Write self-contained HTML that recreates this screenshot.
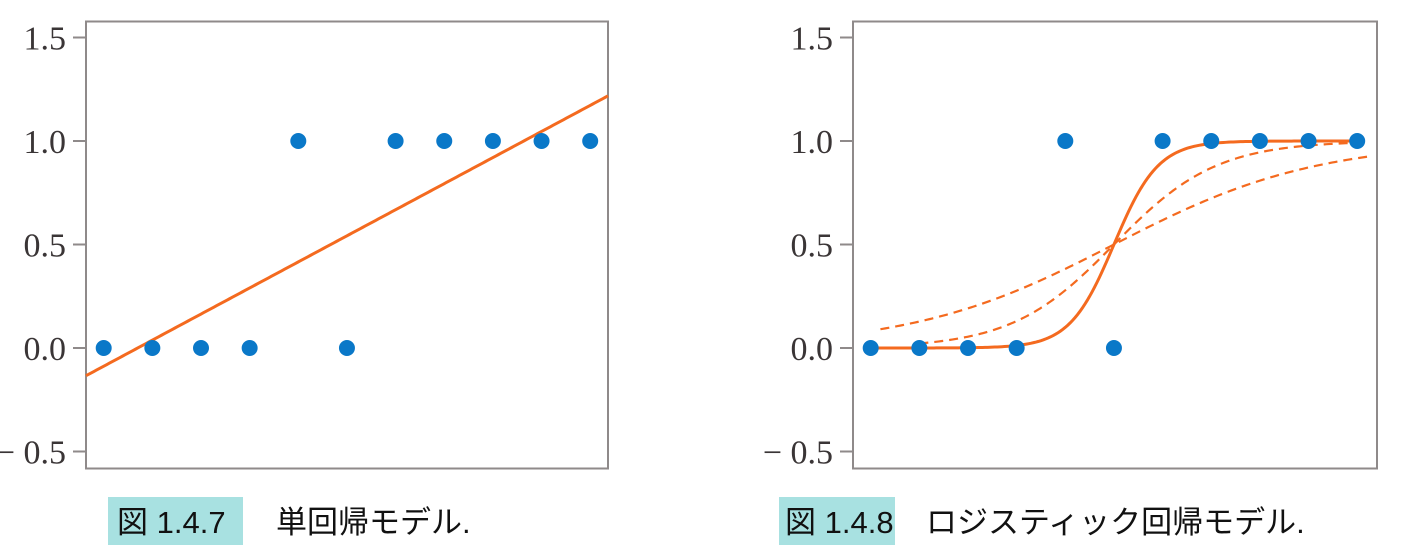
<!DOCTYPE html>
<html><head><meta charset="utf-8"><style>
html,body{margin:0;padding:0;background:#fff;}
svg{display:block;}
.tick{font-family:"Liberation Serif",serif;font-size:34px;fill:#3a3536;}
.cap{font-family:"Liberation Sans","Noto Sans CJK JP",sans-serif;font-size:31px;fill:#111;}
</style></head><body>
<svg id="s" width="1403" height="557" viewBox="0 0 1403 557" xmlns="http://www.w3.org/2000/svg">
<rect x="108" y="497" width="135" height="48" fill="#a8e1e1"/>
<text class="cap" x="117" y="533">図 1.4.7</text>
<text class="cap" x="276" y="533">単回帰モデル.</text>
<rect x="779" y="497" width="116" height="48" fill="#a8e1e1"/>
<text class="cap" x="785" y="533">図 1.4.8</text>
<text class="cap" x="926" y="533">ロジスティック回帰モデル.</text>
</svg>
<script>
const xs = [0,1,2,3,4,5,6,7,8,9,10];
const ys = [0,0,0,0,1,0,1,1,1,1,1];
const yTicks = [1.5,1.0,0.5,0.0,-0.5];
const yTickLabels = ["1.5","1.0","0.5","0.0","\u2212 0.5"];
const linFit = [-0.088, 0.126]; // intercept, slope
const logSolid = [5, 2.2];   // center, steepness
const logDash1 = [5, 0.95];
const logDash2 = [5, 0.48];
const dash1Range = [1, 10];
const dash2Range = [0.2, 10.3];

const NS="http://www.w3.org/2000/svg";
const svg=document.getElementById('s');
function mk(t,a){const e=document.createElementNS(NS,t);for(const k in a)e.setAttribute(k,a[k]);svg.appendChild(e);return e;}
const Y=v=>348-207*v;
function panel(left,right,side){
  const X=v=>left+17.7+48.65*v;
  const x0=(left-(left+17.7))/48.65, x1=(right-(left+17.7))/48.65;
  const b=mk('rect',{x:left,y:21.5,width:right-left,height:447,fill:'none',stroke:'#8f8a8a','stroke-width':2});
  
  
  yTicks.forEach((t,i)=>{
    const l=mk('line',{x1:left-13,x2:left,y1:Y(t),y2:Y(t),stroke:'#8f8a8a','stroke-width':2});
    
    
    const tx=mk('text',{x:left-20,y:Y(t)+12,'text-anchor':'end',class:'tick'});
    tx.textContent=yTickLabels[i];
    
    
  });
  return {X,x0,x1};
}
function curve(X,f,a,b,attrs,name){
  let d='';for(let i=0;i<=200;i++){const x=a+(b-a)*i/200;d+=(i?'L':'M')+X(x).toFixed(2)+','+Y(f(x)).toFixed(2);}
  const p=mk('path',Object.assign({d,fill:'none',stroke:'#f46a1f','stroke-width':3},attrs));
  
  
}
function pts(X,side){
  xs.forEach((x,i)=>{
    const c=mk('circle',{cx:X(x),cy:Y(ys[i]),r:8,fill:'#0a78c8'});
    
    
  });
}
const sig=(p)=>x=>1/(1+Math.exp(-p[1]*(x-p[0])));
const L=panel(86,608,'left');
curve(L.X,x=>linFit[0]+linFit[1]*x,L.x0,L.x1,{},'regression-line');
pts(L.X,'left');
const R=panel(853,1377,'right');
curve(R.X,sig(logDash2),dash2Range[0],dash2Range[1],{'stroke-dasharray':'9,6','stroke-width':2.2},'logistic-dashed-shallow');
curve(R.X,sig(logDash1),dash1Range[0],dash1Range[1],{'stroke-dasharray':'9,6','stroke-width':2.2},'logistic-dashed-medium');
curve(R.X,sig(logSolid),xs[0],xs[xs.length-1],{},'logistic-curve');
pts(R.X,'right');
</script>
</body></html>
